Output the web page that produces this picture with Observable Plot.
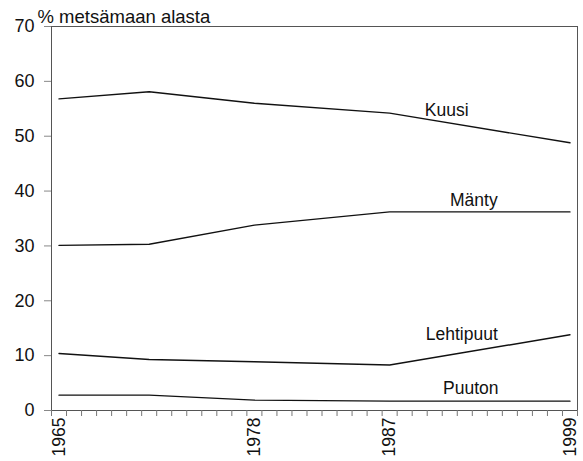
<!DOCTYPE html>
<html><head><meta charset="utf-8">
<script src="https://cdn.jsdelivr.net/npm/d3@7"></script>
<script src="https://cdn.jsdelivr.net/npm/@observablehq/plot@0.6"></script>
<style>html,body{margin:0;padding:0;background:#fff} svg{display:block}</style>
</head><body><div id="chart"></div>
<script>
// Data
const years = [1965, 1971, 1978, 1987, 1999];
const kuusi = [56.8, 58.1, 56.0, 54.2, 48.8];
const manty = [30.1, 30.3, 33.8, 36.2, 36.2];
const lehtipuut = [10.4, 9.3, 8.9, 8.3, 13.8];
const puuton = [2.8, 2.8, 1.9, 1.7, 1.7];
const seriesNames = ["Kuusi", "Mänty", "Lehtipuut", "Puuton"];
// label anchor positions in data units (year, % value)
const labelYears = [1990.8, 1992.6, 1991.8, 1992.4];
const labelValues = [53.7, 37.2, 12.8, 2.95];
const yTicks = [0, 10, 20, 30, 40, 50, 60, 70];
const xLabelYears = [1965, 1978, 1987, 1999];
const xDomain = [1964.5, 1999.5];
const yTitle = "% metsämaan alasta";

const seriesValues = [kuusi, manty, lehtipuut, puuton];
const rows = seriesNames.flatMap((name, i) =>
  years.map((year, j) => ({series: name, year, value: seriesValues[i][j]})));
const labels = seriesNames.map((name, i) => ({name, year: labelYears[i], value: labelValues[i]}));
const yearTicks = d3.range(xDomain[0], xDomain[1] + 0.5, 1);

const chart = Plot.plot({
  width: 583,
  height: 461,
  marginLeft: 51,
  marginRight: 6,
  marginTop: 26,
  marginBottom: 51,
  style: {fontFamily: "'Liberation Sans', Arial, sans-serif", fontSize: "18px", background: "#fff", color: "#111"},
  x: {domain: xDomain},
  y: {domain: [0, 70]},
  marks: [
    Plot.frame({stroke: "#555", strokeWidth: 1}),
    Plot.axisY({ticks: yTicks, tickSize: 7, text: null, stroke: "#888", label: null}),
    Plot.axisY({ticks: yTicks, tickSize: 0, tickPadding: 17, fontSize: 18, fill: "#111", label: null}),
    Plot.axisX({ticks: yearTicks, tickSize: 6, text: null, stroke: "#777", label: null}),
    Plot.axisX({ticks: xLabelYears, tickSize: 0, tickPadding: 7, tickRotate: -90, tickFormat: d => String(d), fontSize: 17.5, fill: "#111", label: null}),
    Plot.line(rows, {x: "year", y: "value", z: "series", stroke: "#111", strokeWidth: 1.4}),
    Plot.text(labels, {x: "year", y: "value", text: "name", lineAnchor: "bottom", textAnchor: "middle", fontSize: 17.5, fill: "#111"}),
    Plot.text([yTitle], {frameAnchor: "top-left", dx: -14, dy: -4, textAnchor: "start", lineAnchor: "bottom", fontSize: 18.5, fill: "#111"})
  ]
});
document.getElementById("chart").append(chart);
</script>
</body></html>
